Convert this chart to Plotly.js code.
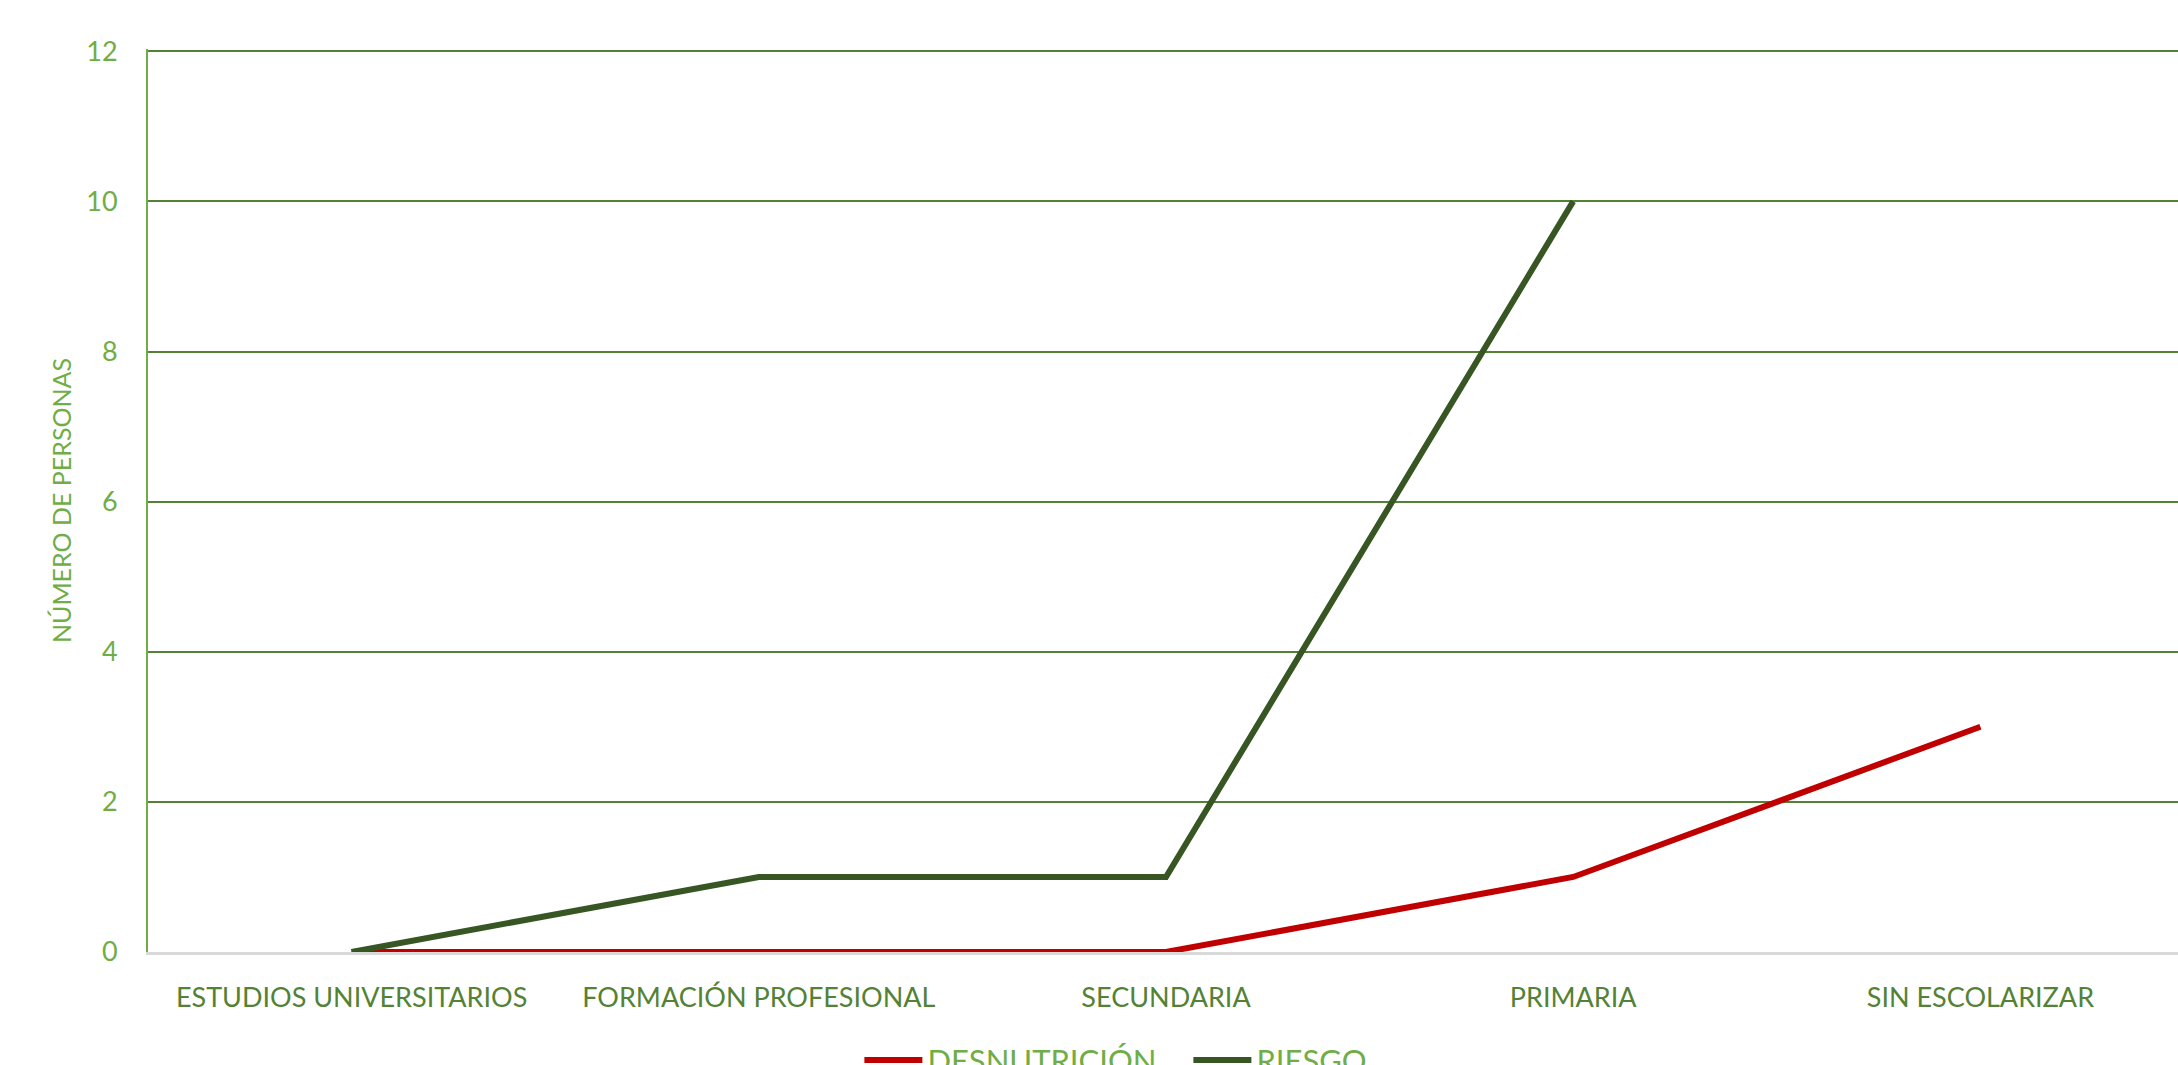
<!DOCTYPE html>
<html>
<head>
<meta charset="utf-8">
<script src="https://cdn.plot.ly/plotly-3.0.1.min.js"></script>
<style>
html,body{margin:0;padding:0;overflow:hidden;background:#fff;}
#chart{width:2184px;height:1065px;}
</style>
</head>
<body>
<div id="chart"></div>
<script>
const categories = ["ESTUDIOS UNIVERSITARIOS", "FORMACIÓN PROFESIONAL", "SECUNDARIA", "PRIMARIA", "SIN ESCOLARIZAR"];
const desnutricion = [0, 0, 0, 1, 3];
const riesgo = [0, 1, 1, 10, null];
const yTicks = [0, 2, 4, 6, 8, 10, 12];

const FONT = "Lato, 'Open Sans', sans-serif";

const traces = [
  {
    x: categories, y: desnutricion, name: "DESNUTRICIÓN", type: "scatter", mode: "lines",
    line: {color: "#C00000", width: 6}
  },
  {
    x: categories, y: riesgo, name: "RIESGO", type: "scatter", mode: "lines",
    line: {color: "#375623", width: 6}
  }
];

const layout = {
  width: 2184, height: 1065,
  margin: {l: 148, r: 0, t: 49, b: 113, autoexpand: false},
  paper_bgcolor: "#ffffff", plot_bgcolor: "#ffffff",
  font: {family: FONT},
  showlegend: true,
  legend: {
    orientation: "h", x: 0.3494, xanchor: "left", y: -0.09, yanchor: "top",
    itemwidth: 58,
    entrywidth: 256, entrywidthmode: "pixels",
    font: {family: FONT, size: 31, color: "#70AD47"}
  },
  xaxis: {
    type: "category",
    range: [-0.5, 4.5],
    showgrid: false,
    showline: true, linecolor: "#D9D9D9", linewidth: 3,
    zeroline: false,
    ticks: "",
    ticklabelstandoff: 20,
    tickfont: {family: FONT, size: 27, color: "#548235"},
    fixedrange: true
  },
  yaxis: {
    range: [0, 12.03],
    tickvals: yTicks,
    ticktext: yTicks.map(String),
    showgrid: true, gridcolor: "#548235", gridwidth: 2,
    showline: true, linecolor: "#70AD47", linewidth: 2,
    zeroline: false,
    ticks: "",
    ticklabelstandoff: 23,
    tickfont: {family: FONT, size: 27, color: "#70AD47"},
    title: {text: "NÚMERO DE PERSONAS", font: {family: FONT, size: 25, color: "#70AD47"}, standoff: 8},
    fixedrange: true
  }
};

Plotly.newPlot("chart", traces, layout, {displayModeBar: false, staticPlot: true});
</script>
</body>
</html>
